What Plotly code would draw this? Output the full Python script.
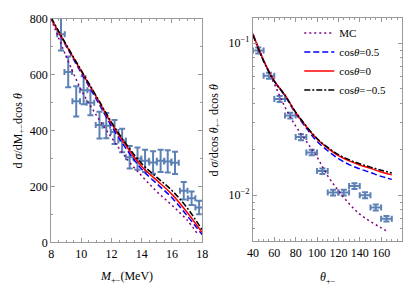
import plotly.graph_objects as go

# ---------------- data: left panel ----------------
M_pts = [8.65, 9.13, 9.66, 10.15, 10.6, 11.2, 11.65, 12.2, 12.7, 13.2, 13.72, 14.22,
         14.75, 15.25, 15.72, 16.2, 16.78, 17.3, 17.8]
M_vals = [745, 610, 505, 545, 500, 420, 418, 395, 365, 305, 300, 292,
          286, 292, 290, 285, 185, 158, 125]
M_err = [58, 55, 54, 50, 45, 48, 45, 43, 42, 40, 40, 40, 40, 40, 40, 40, 31, 24, 24]
M_xerr = [0.25] * 19

M_grid = [8, 9, 10, 11, 12, 13, 14, 15, 16, 17, 18]
M_red = [800, 705, 612, 520, 425, 343, 272, 222, 172, 108, 35]
M_black = [805, 708, 615, 523, 430, 350, 282, 233, 186, 124, 45]
M_blue = [800, 702, 606, 512, 416, 333, 262, 210, 160, 96, 28]
M_grid_mc = [8, 9, 10, 11, 12, 13, 14, 15, 16, 17, 17.7]
M_mc = [800, 665, 545, 455, 375, 300, 238, 182, 133, 80, 30]

# ---------------- data: right panel ----------------
T_pts = [45, 55, 65, 75, 85, 95, 105, 115, 125, 135, 145, 155, 165]
T_vals = [0.0896, 0.0611, 0.0430, 0.0334, 0.0241, 0.0191, 0.0144, 0.0104, 0.0104,
          0.0115, 0.0100, 0.0083, 0.0070]
T_err = [0.0040, 0.0027, 0.0019, 0.0015, 0.0011, 0.0008, 0.0006, 0.00045, 0.00045,
         0.0005, 0.00045, 0.00037, 0.0003]
T_xerr = [5] * 13

T_grid = [40, 50, 60, 70, 80, 90, 100, 110, 120, 130, 140, 150, 160, 170]
T_red = [0.115, 0.077, 0.0565, 0.0455, 0.035, 0.0282, 0.0234, 0.0204, 0.0182, 0.0168,
         0.0158, 0.0150, 0.0142, 0.0136]
T_black = [0.113, 0.076, 0.0562, 0.0455, 0.0352, 0.0284, 0.0236, 0.0206, 0.0185, 0.0171,
           0.0161, 0.0153, 0.0146, 0.0140]
T_blue = [0.115, 0.077, 0.0563, 0.045, 0.0345, 0.0276, 0.0226, 0.0196, 0.0174, 0.0159,
          0.0149, 0.0141, 0.0133, 0.0127]
T_grid_mc = [40, 50, 60, 70, 80, 90, 100, 110, 120, 130, 140, 150, 160, 167]
T_mc = [0.115, 0.077, 0.054, 0.038, 0.0285, 0.0226, 0.0178, 0.0134, 0.0107, 0.0088,
        0.0075, 0.0067, 0.0061, 0.0057]

legend_names = ["MC", "cos<i>θ</i>=0.5", "cos<i>θ</i>=0", "cos<i>θ</i>=−0.5"]

PT = "#5E81B5"
PURPLE = "#800080"
FONT = "Liberation Serif"
W, H = 415, 292

fig = go.Figure()

def curves(xs_mc, mc, xs, blue, red, black, xa, ya, show):
    fig.add_trace(go.Scatter(x=xs_mc, y=mc, mode="lines", line_shape="spline",
                             line=dict(color=PURPLE, width=1.5, dash="2px,3px"),
                             name=legend_names[0], showlegend=show, xaxis=xa, yaxis=ya))
    fig.add_trace(go.Scatter(x=xs, y=blue, mode="lines", line_shape="spline",
                             line=dict(color="#0000FF", width=1.5, dash="6px,3px"),
                             name=legend_names[1], showlegend=show, xaxis=xa, yaxis=ya))
    fig.add_trace(go.Scatter(x=xs, y=red, mode="lines", line_shape="spline",
                             line=dict(color="#FF0000", width=1.5),
                             name=legend_names[2], showlegend=show, xaxis=xa, yaxis=ya))
    fig.add_trace(go.Scatter(x=xs, y=black, mode="lines", line_shape="spline",
                             line=dict(color="#000000", width=1.5, dash="6px,2px,2px,2px"),
                             name=legend_names[3], showlegend=show, xaxis=xa, yaxis=ya))

def points(xs, ys, ey, ex, xa, ya):
    fig.add_trace(go.Scatter(x=xs, y=ys, mode="markers",
                             marker=dict(size=1, color=PT),
                             error_y=dict(type="data", array=ey, color=PT, thickness=2, width=3),
                             error_x=dict(type="data", array=ex, color=PT, thickness=2, width=3),
                             showlegend=False, xaxis=xa, yaxis=ya))

points(M_pts, M_vals, M_err, M_xerr, "x", "y")
curves(M_grid_mc, M_mc, M_grid, M_blue, M_red, M_black, "x", "y", False)
points(T_pts, T_vals, T_err, T_xerr, "x2", "y2")
curves(T_grid_mc, T_mc, T_grid, T_blue, T_red, T_black, "x2", "y2", True)

def px_x(p):
    return p / W

def px_y(p):
    return 1 - p / H

axcommon = dict(showline=True, linecolor="#999999", linewidth=1, mirror="allticks",
                ticks="inside", ticklen=4, tickcolor="#999999", showgrid=False,
                zeroline=False, tickfont=dict(family=FONT, size=12, color="black"))

fig.update_layout(
    width=W, height=H, margin=dict(l=0, r=0, t=0, b=0),
    paper_bgcolor="white", plot_bgcolor="white",
    xaxis=dict(domain=[px_x(46.5), px_x(202)], range=[8, 18], tickvals=[8, 10, 12, 14, 16, 18],
               minor=dict(dtick=0.5, tick0=8, ticklen=2, ticks="inside", tickcolor="#999999"),
               anchor="y", **axcommon),
    yaxis=dict(domain=[px_y(247.3), px_y(12.5)], range=[0, 800], tickvals=[0, 200, 400, 600, 800],
               minor=dict(dtick=100, tick0=0, ticklen=2, ticks="inside", tickcolor="#999999"),
               anchor="x", **axcommon),
    xaxis2=dict(domain=[px_x(254.3), px_x(408.3)], range=[40, 180],
                tickvals=[40, 60, 80, 100, 120, 140, 160],
                minor=dict(dtick=5, tick0=40, ticklen=2, ticks="inside", tickcolor="#999999"),
                anchor="y2", **axcommon),
    yaxis2=dict(domain=[px_y(246), px_y(11.7)], type="log",
                range=[-2.303, -0.835], tickvals=[0.01, 0.1],
                ticktext=["10<sup>−2</sup>", "10<sup>−1</sup>"],
                minor=dict(tickvals=[0.005, 0.006, 0.007, 0.008, 0.009, 0.02, 0.03, 0.04, 0.05,
                                     0.06, 0.07, 0.08, 0.09],
                           ticklen=2, ticks="inside", tickcolor="#999999"),
                anchor="x2", **axcommon),
    legend=dict(x=px_x(302), y=px_y(12), xanchor="left", yanchor="top",
                bgcolor="rgba(0,0,0,0)", font=dict(family=FONT, size=11, color="black"),
                itemwidth=30, tracegroupgap=0),
    showlegend=True,
)

TF = dict(family=FONT, size=12, color="black")
def ann(text, x, y, angle=0):
    fig.add_annotation(text=text, x=px_x(x), y=px_y(y), xref="paper", yref="paper",
                       xanchor="center", yanchor="middle", showarrow=False, font=TF,
                       textangle=angle)

ann("<i>M</i><sub>+−</sub>(MeV)", 124.5, 284)
ann("<i>θ</i><sub>+−</sub>", 331.5, 285)
ann("d <i>σ</i>/dM<sub>+−</sub>dcos <i>θ</i>", 13, 130, -90)
ann("d <i>σ</i>/dcos <i>θ</i><sub>+−</sub> dcos <i>θ</i>", 215, 129, -90)

fig.write_html("out.html", config={"displayModeBar": False},
               post_script="document.body.style.margin='0';")
